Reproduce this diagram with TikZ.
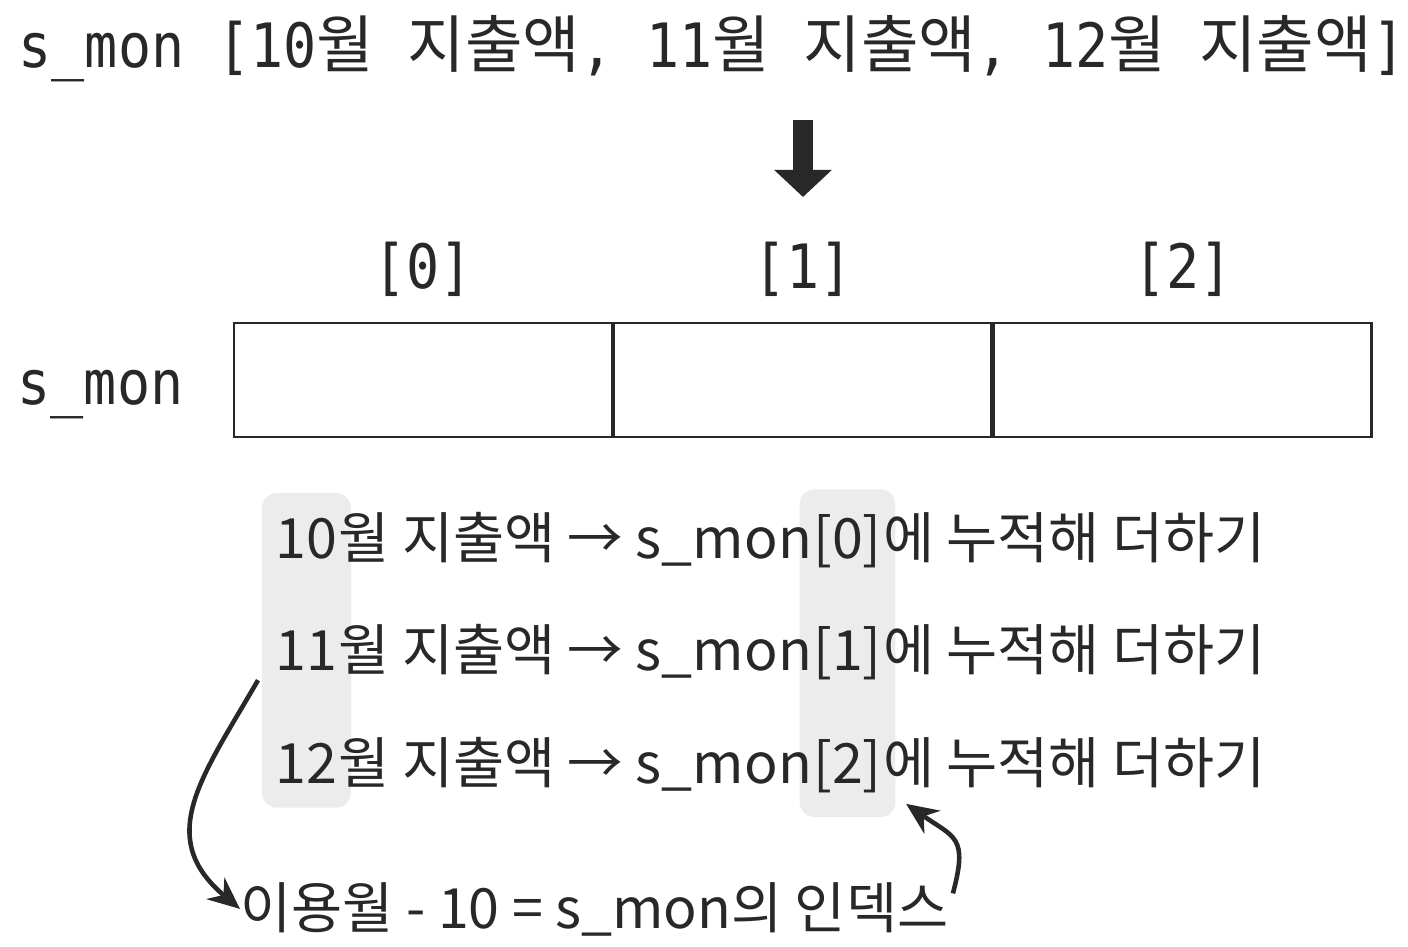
\documentclass[tikz,border=0pt]{standalone}
\usepackage{fontspec}
\setmainfont{Noto Sans CJK KR}
\newfontfamily\monofont[FakeStretch=0.9]{DejaVu Sans Mono}
\newfontfamily\kofont{Noto Sans CJK KR}
\usepackage{tikz}
\usetikzlibrary{positioning,arrows.meta,fit,backgrounds}
\definecolor{inkgray}{RGB}{40,40,40}
\definecolor{hlgray}{RGB}{236,236,236}
\newcommand{\hg}[1]{{\fontsize{17.8}{20}\kofont #1}}
\newcommand{\monotop}{\fontsize{17.4}{20}\monofont}
\newcommand{\rowfont}{\fontsize{15.8}{19}\selectfont}

\begin{document}
\begin{tikzpicture}[
  txt/.style={inner sep=0pt, text=inkgray},
  cell/.style={draw=inkgray, line width=0.7pt, minimum width=3.775cm, minimum height=1.14cm, inner sep=0pt},
  hl/.style={fill=hlgray, rounded corners=1.5mm, inner xsep=0.13cm, inner ysep=0.24cm},
  curvearrow/.style={draw=inkgray, line width=1.3pt, -{Stealth[length=3.2mm,width=2.8mm]}}
]
\useasboundingbox (0,0) rectangle (14.08,9.46);

% the list that is stored
\node[txt, font=\monotop, anchor=base west] (list) at (0.18,8.78)
  {s\_mon [10\hg{월} \hg{지출액}, 11\hg{월} \hg{지출액}, 12\hg{월} \hg{지출액}]};

\coordinate (d1) at (8.03,8.26);
\coordinate (d2) at (8.03,7.49);
\draw[line width=2mm, inkgray, -{Triangle[width=5.6mm,length=2.7mm]}] (d1) -- (d2);

% the array
\node[cell] (c0) at (4.23,5.66) {};
\node[cell, right=0pt of c0] (c1) {};
\node[cell, right=0pt of c1] (c2) {};
\foreach \i in {0,1,2}
  \node[txt, font=\monotop, above=0.25cm of c\i] (k\i) {[\i]};
\node[txt, font=\monotop, left=0.49cm of c0, yshift=-0.15cm] (lab) {s\_mon};

% the three rows
\foreach \m/\i [count=\n from 0] in {10/0,11/1,12/2} {
  \node[txt, font=\rowfont, anchor=base west] (m\n) at (2.75,{3.88-1.125*\n}) {\m};
  \node[txt, font=\rowfont, anchor=base west] (t\n) at (m\n.base east) {월 지출액 → s\_mon};
  \node[txt, font=\rowfont, anchor=base west] (i\n) at (t\n.base east) {[\i]};
  \node[txt, font=\rowfont, anchor=base west] (e\n) at (i\n.base east) {에 누적해 더하기};
}
\begin{scope}[on background layer]
  \node[hl, fit=(m0)(m2)] (h1) {};
  \node[hl, fit=(i0)(i2)] (h2) {};
\end{scope}

\node[txt, font=\rowfont, anchor=base west] (form) at (2.40,0.18) {이용월 - 10 = s\_mon의 인덱스};

\draw[curvearrow] ([xshift=-0.17cm,yshift=-0.09cm]m1.south west) to[out=240,in=140,looseness=1.25] (form.west);
\draw[curvearrow] ([xshift=0.04cm,yshift=-0.12cm]form.north east) to[out=75,in=-35,looseness=1.5] ([xshift=0.1cm,yshift=0.14cm]h2.south east);
\end{tikzpicture}
\end{document}
